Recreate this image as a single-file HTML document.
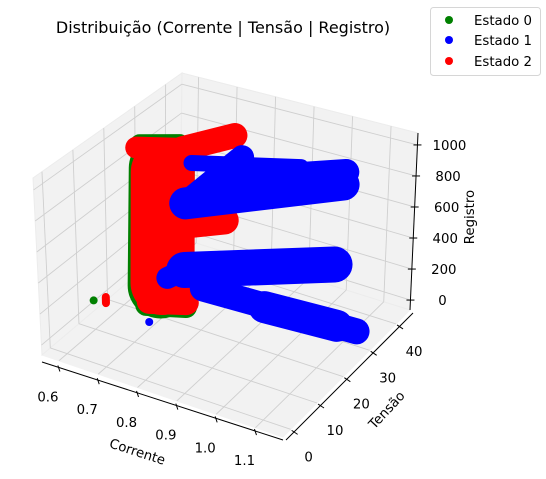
<!DOCTYPE html>
<html><head><meta charset="utf-8">
<style>
html,body{margin:0;padding:0;background:#fff;}
svg{display:block;font-family:"DejaVu Sans","Liberation Sans",sans-serif;}
</style></head>
<body>
<svg id="chart" width="546" height="479" viewBox="0 0 546 479" xmlns="http://www.w3.org/2000/svg">
  <text x="223" y="33" font-size="16" text-anchor="middle" fill="#000">Distribuição (Corrente | Tensão | Registro)</text>
  <g id="panes"></g>
  <g id="grid"></g>
  <g id="axes"></g>
  <g id="marks"></g>
  <g>
    <rect x="430.5" y="7.5" width="110" height="68" rx="3" fill="#fff" stroke="#d6d6d6"/>
    <g>
      <circle cx="449" cy="20" r="4" fill="#008000"/>
      <text x="474" y="25" font-size="13.3" fill="#000">Estado 0</text>
    </g>
    <g>
      <circle cx="449" cy="40" r="4" fill="#0000ff"/>
      <text x="474" y="45" font-size="13.3" fill="#000">Estado 1</text>
    </g>
    <g>
      <circle cx="449" cy="61" r="4" fill="#ff0000"/>
      <text x="474" y="66" font-size="13.3" fill="#000">Estado 2</text>
    </g>
  </g>
</svg>
<script>
// ---- data (corrente, tensao, registro) : blob segments per state ----
const xTicks = [0.6, 0.7, 0.8, 0.9, 1.0, 1.1];
const xTickLabels = ["0.6", "0.7", "0.8", "0.9", "1.0", "1.1"];
const yTicks = [0, 10, 20, 30, 40];
const yTickLabels = ["0", "10", "20", "30", "40"];
const zTicks = [0, 200, 400, 600, 800, 1000];
const zTickLabels = ["0", "200", "400", "600", "800", "1000"];

// Estado 0 (green)
const e0C0 = [0.685, 0.66, 0.625, 0.555];
const e0T0 = [21.5, 19.7, 22.8, 15.5];
const e0R0 = [110, -10, 985, 0];
const e0C1 = [0.692, 0.74, 0.70, 0.555];
const e0T1 = [21.5, 22.9, 26.5, 15.5];
const e0R1 = [890, -10, 985, 0];

// Estado 2 (red)
const e2C0 = [0.69, 0.617, 0.705, 0.668, 0.69, 0.69, 0.577];
const e2T0 = [21.5, 22.8, 26.5, 19.7, 21.5, 21.5, 16.8];
const e2R0 = [130, 950, 950, 20, 500, 100, 20];
const e2C1 = [0.696, 0.705, 0.772, 0.741, 0.794, 0.814, 0.577];
const e2T1 = [21.3, 26.5, 35.5, 22.9, 29.3, 27.7, 16.8];
const e2R1 = [870, 950, 950, 20, 500, 100, -20];

// Estado 1 (blue)
const e1C0 = [0.739, 0.769, 0.82, 0.769, 0.774, 0.760, 0.785, 0.94, 0.706];
const e1T0 = [25.3, 19.2, 32.0, 19.2, 17.9, 13.9, 22.8, 23.5, 14.5];
const e1R0 = [900, 750, 750, 750, 340, 340, 150, 140, 0];
const e1C1 = [0.958, 1.025, 1.005, 0.766, 1.025, 0.774, 1.16, 1.11, 0.706];
const e1T1 = [33.6, 39.5, 43.1, 38.8, 37.0, 17.9, 26.3, 26.1, 14.5];
const e1R1 = [900, 740, 750, 750, 260, 340, 110, 110, 0];

// stroke widths (style, px)
const e0W = [66, 22, 18, 8];
const e2W = [64, 22, 25, 25, 28, 22, 8];
const e1W = [16, 32, 26, 24, 36, 22, 26, 32, 8];

// ---- projection ----
const XMIN = 0.557, XMAX = 1.17, YMIN = -2.9, YMAX = 45.3, ZMIN = -64, ZMAX = 1077;
const P = {
  "000": [42, 355], "100": [283, 437], "110": [410, 310], "010": [180, 238],
  "001": [33, 178], "101": [278, 252], "111": [418, 133], "011": [182, 73]
};
function lerp(a, b, t) { return [a[0] + (b[0] - a[0]) * t, a[1] + (b[1] - a[1]) * t]; }
function proj(x, y, z) {
  const u = (x - XMIN) / (XMAX - XMIN), v = (y - YMIN) / (YMAX - YMIN), w = (z - ZMIN) / (ZMAX - ZMIN);
  const b0 = lerp(lerp(P["000"], P["100"], u), lerp(P["010"], P["110"], u), v);
  const b1 = lerp(lerp(P["001"], P["101"], u), lerp(P["011"], P["111"], u), v);
  return lerp(b0, b1, w);
}
const NS = "http://www.w3.org/2000/svg";
function mk(tag, attrs, parent) {
  const e = document.createElementNS(NS, tag);
  for (const k in attrs) e.setAttribute(k, attrs[k]);
  parent.appendChild(e);
  return e;
}
function poly(pts) { return pts.map(p => p[0].toFixed(1) + "," + p[1].toFixed(1)).join(" "); }

// panes
const panes = document.getElementById("panes");
const floor = mk("polygon", { points: poly([proj(XMIN, YMIN, ZMIN), proj(XMAX, YMIN, ZMIN), proj(XMAX, YMAX, ZMIN), proj(XMIN, YMAX, ZMIN)]), fill: "#f2f2f2", stroke: "#f2f2f2" }, panes);


const leftPane = mk("polygon", { points: poly([proj(XMIN, YMIN, ZMIN), proj(XMIN, YMAX, ZMIN), proj(XMIN, YMAX, ZMAX), proj(XMIN, YMIN, ZMAX)]), fill: "#ececec", stroke: "#ececec", "fill-opacity": 0.7 }, panes);


const backPane = mk("polygon", { points: poly([proj(XMIN, YMAX, ZMIN), proj(XMAX, YMAX, ZMIN), proj(XMAX, YMAX, ZMAX), proj(XMIN, YMAX, ZMAX)]), fill: "#ececec", stroke: "#ececec", "fill-opacity": 0.7 }, panes);



// grid
const grid = document.getElementById("grid");
function gl(a, b) {
  const l = mk("line", { x1: a[0], y1: a[1], x2: b[0], y2: b[1], stroke: "#cfcfcf", "stroke-width": 0.9 }, grid);
  
  
}
xTicks.forEach(x => { gl(proj(x, YMIN, ZMIN), proj(x, YMAX, ZMIN)); gl(proj(x, YMAX, ZMIN), proj(x, YMAX, ZMAX)); });
yTicks.forEach(y => { gl(proj(XMIN, y, ZMIN), proj(XMAX, y, ZMIN)); gl(proj(XMIN, y, ZMIN), proj(XMIN, y, ZMAX)); });
zTicks.forEach(z => { gl(proj(XMIN, YMIN, z), proj(XMIN, YMAX, z)); gl(proj(XMIN, YMAX, z), proj(XMAX, YMAX, z)); });

// axes
const axes = document.getElementById("axes");
function al(a, b, name) {
  const l = mk("line", { x1: a[0], y1: a[1], x2: b[0], y2: b[1], stroke: "#000", "stroke-width": 1 }, axes);
  
  
}
function tx(x, y, s, name, anchor, rot) {
  const t = mk("text", { x: x, y: y, "font-size": 13.3, "text-anchor": anchor || "middle", fill: "#000" }, axes);
  if (rot) t.setAttribute("transform", "rotate(" + rot + " " + x + " " + y + ")");
  t.textContent = s;
  
  
  return t;
}
// x axis (Corrente) offset outward
{
  const a = proj(XMIN, YMIN, ZMIN), b = proj(XMAX, YMIN, ZMIN);
  al([a[0], a[1] + 7], [b[0], b[1] + 3], "x-axis-line");
  xTicks.forEach((x, i) => {
    const p = proj(x, YMIN, ZMIN);
    const py = p[1] + 7 - (4 * (x - XMIN) / (XMAX - XMIN));
    al([p[0] - 1, py - 2], [p[0] + 1, py + 4], "x-tick");
    tx(p[0] - 11, py + 34, xTickLabels[i], "x-tick-label");
  });
  tx(136, 456, "Corrente", "x-axis-title", "middle", 18);
}
// y axis (Tensão)
{
  const a = proj(XMAX, YMIN, ZMIN), b = proj(XMAX, YMAX, ZMIN);
  al([a[0] + 3, a[1] + 3], [b[0] + 3, b[1] + 3], "y-axis-line");
  yTicks.forEach((y, i) => {
    const p = proj(XMAX, y, ZMIN);
    al([p[0] + 1, p[1] + 1], [p[0] + 7, p[1] + 5], "y-tick");
    tx(p[0] + 18, p[1] + 32, yTickLabels[i], "y-tick-label");
  });
  tx(390, 413, "Tensão", "y-axis-title", "middle", -47);
}
// z axis (Registro)
{
  const a = proj(XMAX, YMAX, ZMIN), b = proj(XMAX, YMAX, ZMAX);
  al(a, b, "z-axis-line");
  zTicks.forEach((z, i) => {
    const p = proj(XMAX, YMAX, z);
    al([p[0] - 4, p[1]], [p[0] + 4, p[1]], "z-tick");
    tx(p[0] + 32, p[1] + 5, zTickLabels[i], "z-tick-label");
  });
  tx(474, 217, "Registro", "z-axis-title", "middle", -90);
}

// marks
const marks = document.getElementById("marks");
function drawSeries(c0, t0, r0, c1, t1, r1, wd, color, name) {
  const g = mk("g", {}, marks);
  
  
  for (let i = 0; i < c0.length; i++) {
    const a = proj(c0[i], t0[i], r0[i]), b = proj(c1[i], t1[i], r1[i]);
    const l = mk("line", { x1: a[0], y1: a[1], x2: b[0] + 0.01, y2: b[1], stroke: color, "stroke-width": wd[i], "stroke-linecap": "round" }, g);
    
    
  }
}
drawSeries(e0C0, e0T0, e0R0, e0C1, e0T1, e0R1, e0W, "#008000", "series-estado-0");
drawSeries(e2C0, e2T0, e2R0, e2C1, e2T1, e2R1, e2W, "#ff0000", "series-estado-2");
drawSeries(e1C0, e1T0, e1R0, e1C1, e1T1, e1R1, e1W, "#0000ff", "series-estado-1");
</script>
</body></html>
